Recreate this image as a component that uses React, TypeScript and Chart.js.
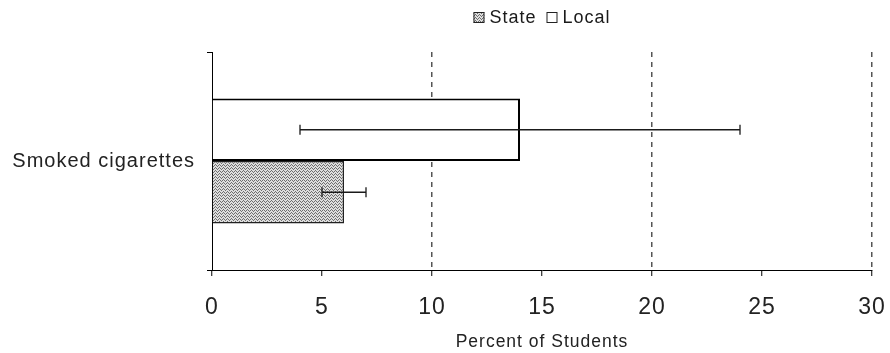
import React, { useEffect, useRef } from 'react';
import { Chart, registerables } from 'chart.js';

Chart.register(...registerables);

const categories = ['Smoked cigarettes'];
const legendOrder = ['State', 'Local'];
const localValues = [14];
const stateValues = [6];
const localErrLow = [4];
const localErrHigh = [24];
const stateErrLow = [5];
const stateErrHigh = [7];
const xTicks = [0, 5, 10, 15, 20, 25, 30];
const xTitle = 'Percent of Students';

const FONT = '"Liberation Sans", Arial, Helvetica, sans-serif';
const SPACING = '1px';

function makePattern(): CanvasPattern | string {
  const pc = document.createElement('canvas');
  pc.width = 4;
  pc.height = 3;
  const p = pc.getContext('2d');
  if (!p) return '#bbbbbb';
  p.fillStyle = '#dedede';
  p.fillRect(0, 0, 4, 3);
  p.fillStyle = '#6e6e6e';
  p.fillRect(0, 0, 1, 1);
  p.fillRect(2, 0, 1, 1);
  p.fillRect(1, 1, 1, 1);
  p.fillRect(3, 2, 1, 1);
  const pat = p.createPattern(pc, 'repeat');
  return pat || '#bbbbbb';
}

const spacingPlugin = {
  id: 'spacing',
  beforeLayout(chart: any) {
    chart.ctx.letterSpacing = SPACING;
  },
  beforeDraw(chart: any) {
    chart.ctx.letterSpacing = SPACING;
  },
};

const errorBarPlugin = {
  id: 'errorBars',
  afterDatasetsDraw(chart: any) {
    const ctx = chart.ctx;
    const xs = chart.scales.x;
    chart.data.datasets.forEach((ds: any, di: number) => {
      const meta = chart.getDatasetMeta(di);
      meta.data.forEach((el: any, i: number) => {
        const lo = ds.errLow[i];
        const hi = ds.errHigh[i];
        const x1 = xs.getPixelForValue(lo);
        const x2 = xs.getPixelForValue(hi);
        const y = el.y;
        ctx.save();
        ctx.strokeStyle = '#1a1a1a';
        ctx.lineWidth = 1.3;
        ctx.beginPath();
        ctx.moveTo(x1, y);
        ctx.lineTo(x2, y);
        ctx.moveTo(x1, y - 5);
        ctx.lineTo(x1, y + 5);
        ctx.moveTo(x2, y - 5);
        ctx.lineTo(x2, y + 5);
        ctx.stroke();
        ctx.restore();
      });
    });
  },
};

const legendPlugin = {
  id: 'customLegend',
  afterDraw(chart: any) {
    const ctx = chart.ctx;
    const ca = chart.chartArea;
    const items = legendOrder.map((name) => chart.data.datasets.find((d: any) => d.label === name));
    ctx.save();
    ctx.letterSpacing = SPACING;
    ctx.font = `18px ${FONT}`;
    const box = 11;
    const gapBoxText = 5;
    const gapItems = 10;
    const widths = items.map((d: any) => box + gapBoxText + ctx.measureText(d.label).width);
    const total = widths.reduce((a: number, b: number) => a + b, 0) + gapItems * (items.length - 1);
    let x = (ca.left + ca.right) / 2 - total / 2;
    const yc = 17.5;
    items.forEach((d: any, i: number) => {
      ctx.fillStyle = d.backgroundColor;
      ctx.fillRect(x, yc - box / 2, box, box);
      ctx.strokeStyle = '#222';
      ctx.lineWidth = 1;
      ctx.strokeRect(x + 0.5, yc - box / 2 + 0.5, box - 1, box - 1);
      ctx.fillStyle = '#1a1a1a';
      ctx.textBaseline = 'middle';
      ctx.textAlign = 'left';
      ctx.fillText(d.label, x + box + gapBoxText, yc + 1);
      x += widths[i] + gapItems;
    });
    ctx.restore();
  },
};

export default function App() {
  const ref = useRef<HTMLCanvasElement | null>(null);

  useEffect(() => {
    if (!ref.current) return;
    document.body.style.margin = '0';
    const pattern = makePattern();
    const chart = new Chart(ref.current, {
      type: 'bar',
      data: {
        labels: categories,
        datasets: [
          {
            label: 'Local',
            data: localValues,
            backgroundColor: '#ffffff',
            borderColor: '#000000',
            borderWidth: 2,
            categoryPercentage: 0.573,
            barPercentage: 1,
            errLow: localErrLow,
            errHigh: localErrHigh,
          } as any,
          {
            label: 'State',
            data: stateValues,
            backgroundColor: pattern,
            borderColor: '#222222',
            borderWidth: 1.5,
            categoryPercentage: 0.573,
            barPercentage: 1,
            errLow: stateErrLow,
            errHigh: stateErrHigh,
          } as any,
        ],
      },
      options: {
        indexAxis: 'y',
        responsive: false,
        animation: false,
        layout: { padding: { top: 52, right: 18, left: 0, bottom: 0 } },
        plugins: {
          legend: { display: false },
          tooltip: { enabled: false },
        },
        scales: {
          x: {
            type: 'linear',
            min: 0,
            max: 30,
            afterBuildTicks: (s: any) => {
              s.ticks = xTicks.map((v) => ({ value: v }));
            },
            grid: {
              color: (c: any) =>
                c.tick && c.tick.value % 10 === 0 && c.tick.value !== 0 ? '#555555' : 'rgba(0,0,0,0)',
              lineWidth: 1.5,
              tickColor: '#000000',
              tickLength: 6,
              tickWidth: 1,
              tickBorderDash: [],
            },
            border: { display: true, color: '#000000', width: 1, dash: [5, 5] },
            ticks: {
              font: { size: 23, family: FONT },
              color: '#222222',
              padding: 18,
            },
            title: {
              display: true,
              text: xTitle,
              font: { size: 17.5, family: FONT },
              color: '#222222',
              padding: { top: 0, bottom: 0 },
            },
            afterFit: (s: any) => {
              s.height = 83;
              s.paddingLeft = 0;
              s.paddingRight = 0;
            },
          } as any,
          y: {
            type: 'category',
            grid: {
              color: 'rgba(0,0,0,0)',
              tickColor: '#000000',
              tickLength: 5,
              offset: true,
            },
            border: { display: true, color: '#000000', width: 1 },
            ticks: {
              font: { size: 20, family: FONT },
              color: '#222222',
              padding: 12,
            },
            afterFit: (s: any) => {
              s.width = 212;
            },
          } as any,
        },
      },
      plugins: [spacingPlugin, errorBarPlugin, legendPlugin],
    });
    return () => chart.destroy();
  }, []);

  return (
    <div style={{ position: 'absolute', left: 0, top: 0, width: 890, height: 353, background: '#ffffff' }}>
      <canvas ref={ref} width={890} height={353} />
    </div>
  );
}
